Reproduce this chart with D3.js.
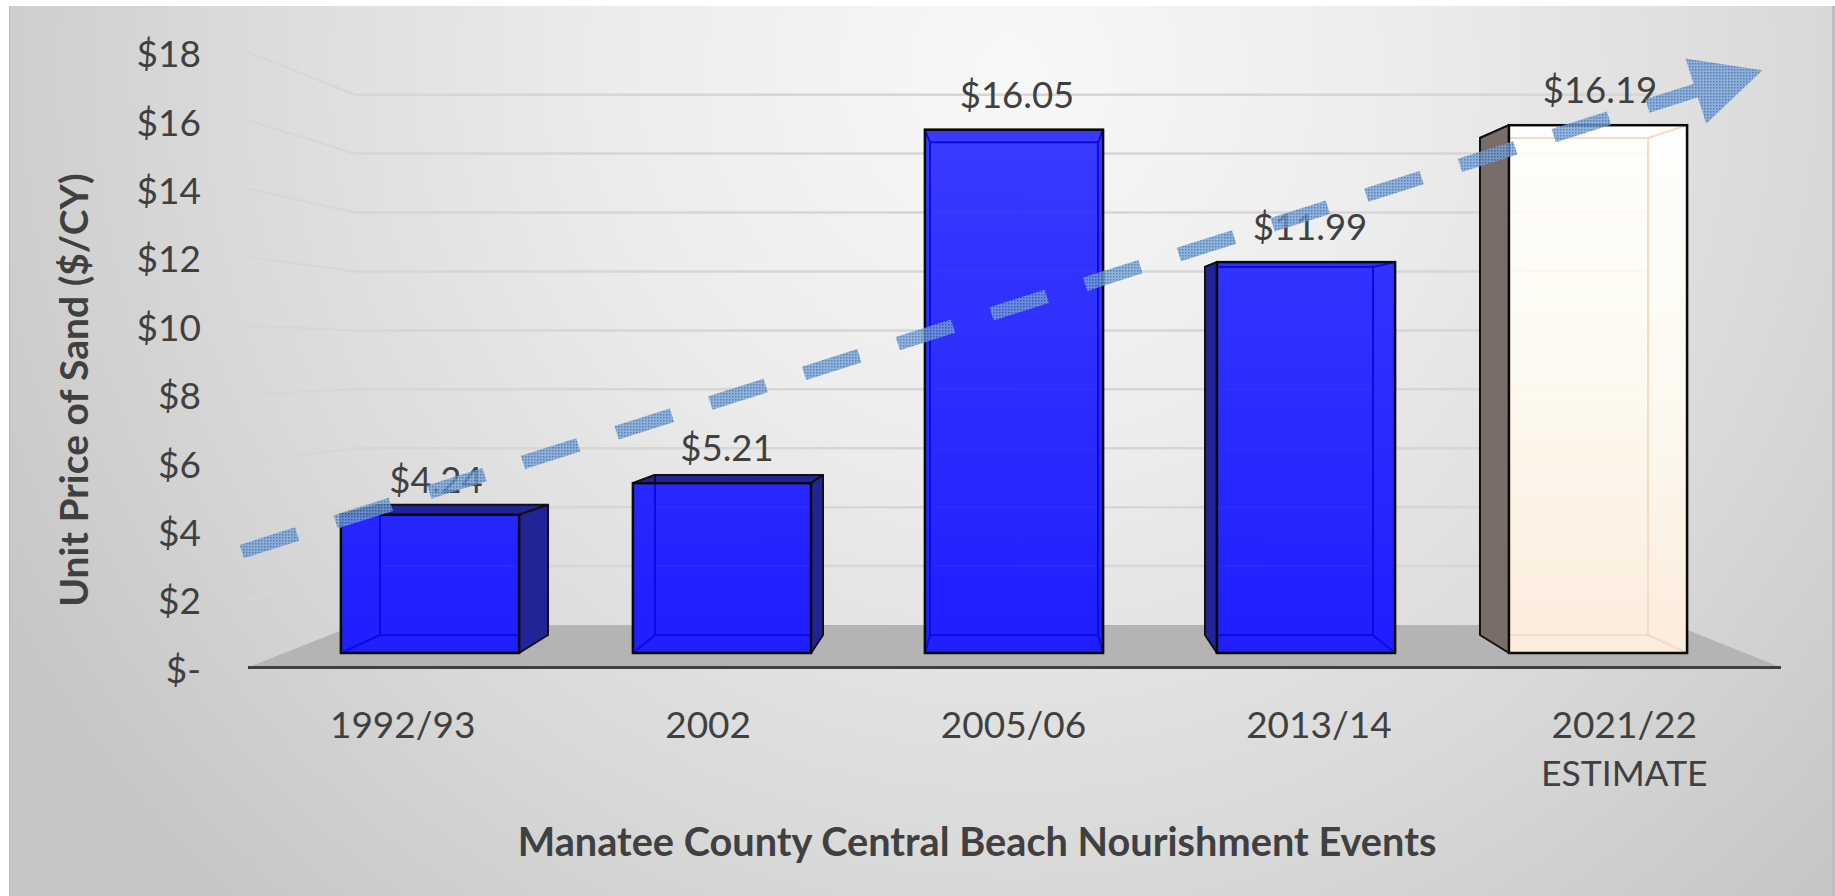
<!DOCTYPE html>
<html>
<head>
<meta charset="utf-8">
<script src="https://cdn.jsdelivr.net/npm/d3@7"></script>
<style>
    html, body { margin: 0; padding: 0; background: #fff; overflow: hidden; }
    text { font-family: Lato, "Open Sans", sans-serif; fill: #404040; }
</style>
</head>
<body>
<div id="chart"></div>
<script>
const categories = ["1992/93", "2002", "2005/06", "2013/14", "2021/22"];
const subLabels = ["", "", "", "", "ESTIMATE"];
const prices = [4.24, 5.21, 16.05, 11.99, 16.19];
const yTicks = [0, 2, 4, 6, 8, 10, 12, 14, 16, 18];
// last event is only an estimate, drawn as a pale bar
const isEstimate = [false, false, false, false, true];

// trend arrow, as position along the floor (0-5) and price
const trendPos = [-0.02, 4.723];
const trendVal = [3.39, 16.87];
const headPos = [4.689, 4.939, 4.756];
const headVal = [17.81, 17.46, 15.9];

const width = 1835;
const height = 896;

// Chart is a fake 3D one: front plane, back plane of bars and back wall all scale differently
const yAxisScale = d3.scaleLinear().domain([0, 18]).range([667.5, 51.9]);
const yWall = d3.scaleLinear().domain([0, 18]).range([625, 94.7]);
const yFront = d3.scaleLinear().domain([0, 18]).range([653, 66.2]);
const yBack = d3.scaleLinear().domain([0, 18]).range([635, 82.4]);

const xFront = d3.scaleBand().domain(categories).range([284, 1744]).paddingInner(0.39).paddingOuter(0.195);
const xBack = d3.scaleBand().domain(categories).range([326.5, 1701.5]).paddingInner(0.389).paddingOuter(0.1945);
const xLabels = d3.scaleBand().domain(categories).range([250, 1777]);
const xFloor = d3.scaleLinear().domain([0, 5]).range([248, 1781]);

const svg = d3.select("#chart")
    .append("svg")
    .attr("width", width)
    .attr("height", height)
    .attr("viewBox", [0, 0, width, height])
    .style("display", "block");

const defs = svg.append("defs");

function addGradient(id, stops) {
    const g = defs.append("linearGradient")
        .attr("id", id)
        .attr("gradientUnits", "userSpaceOnUse")
        .attr("x1", 0).attr("x2", 0)
        .attr("y1", 100).attr("y2", 655);
    stops.forEach(s => g.append("stop").attr("offset", s[0]).attr("stop-color", s[1]));
}
addGradient("blueFront", [[0, "#3b3bff"], [1, "#1e1eff"]]);
addGradient("paleFront", [[0, "#fefefe"], [0.5, "#fcfaf1"], [1, "#fcecdc"]]);

const bg = defs.append("radialGradient")
    .attr("id", "panel")
    .attr("gradientUnits", "userSpaceOnUse")
    .attr("cx", 1010).attr("cy", 70).attr("r", 1150);
[[0, "#f8f8f8"], [0.35, "#ececec"], [0.7, "#d9d9d9"], [1, "#c6c6c6"]]
    .forEach(s => bg.append("stop").attr("offset", s[0]).attr("stop-color", s[1]));

// speckled fill of the trend arrow
const speckle = defs.append("pattern")
    .attr("id", "speckle")
    .attr("patternUnits", "userSpaceOnUse")
    .attr("width", 3).attr("height", 3);
speckle.append("rect").attr("width", 3).attr("height", 3).attr("fill", "#78a4dc");
speckle.append("rect").attr("width", 1.5).attr("height", 1.5).attr("fill", "#3a68a2");

// Panel background
svg.append("rect").attr("x", 9).attr("y", 6).attr("width", 1826).attr("height", 890)
    .attr("fill", "url(#panel)");
svg.append("line").attr("x1", 9.5).attr("x2", 9.5).attr("y1", 6).attr("y2", height)
    .attr("stroke", "#b8b8b8");
svg.append("rect").attr("x", 1832).attr("y", 6).attr("width", 3).attr("height", 890)
    .attr("fill", "#bdbdbd");

// Floor
const floorLeft = xFloor(0), floorRight = xFloor(5);
const wallLeft = 355, wallRight = 1675;
svg.append("polygon")
    .attr("points", [[floorLeft, yAxisScale(0)], [floorRight, yAxisScale(0)], [wallRight, yWall(0)], [wallLeft, yWall(0)]].join(" "))
    .attr("fill", "#b4b4b4");

// Gridlines, back wall and the slanted bit on the side wall
const grid = svg.append("g").attr("fill", "none").attr("stroke", "#d6d6d6");
grid.selectAll(".back")
    .data(yTicks.filter(d => d > 0))
    .join("line")
    .attr("x1", wallLeft).attr("x2", wallRight)
    .attr("y1", d => yWall(d)).attr("y2", d => yWall(d))
    .attr("stroke-width", 2.5);
grid.selectAll(".side")
    .data(yTicks.filter(d => d > 0))
    .join("line")
    .attr("x1", floorLeft).attr("x2", wallLeft)
    .attr("y1", d => yAxisScale(d)).attr("y2", d => yWall(d))
    .attr("stroke-width", 2);

svg.append("line")
    .attr("x1", floorLeft).attr("x2", floorRight)
    .attr("y1", yAxisScale(0)).attr("y2", yAxisScale(0))
    .attr("stroke", "#404040").attr("stroke-width", 3);

// Bars
const rows = categories.map((c, i) => ({ cat: c, price: prices[i], est: isEstimate[i], i: i }));

const bars = svg.append("g").selectAll("g").data(rows).join("g");

bars.each(function (d) {
    const g = d3.select(this);
    const fl = xFront(d.cat), fr = fl + xFront.bandwidth();
    const bl = xBack(d.cat), br = bl + xBack.bandwidth();
    const ft = yFront(d.price), fb = yFront(0);
    const bt = yBack(d.price), bb = yBack(0);
    const dark = d.est ? "#786d68" : "#232398";
    const inner = d.est ? "#f3dcc6" : "#0c0ce0";

    const faces = [
        [[fl, ft], [fr, ft], [br, bt], [bl, bt]],
        [[fl, ft], [bl, bt], [bl, bb], [fl, fb]],
        [[fr, ft], [br, bt], [br, bb], [fr, fb]]
    ];
    g.selectAll(".face")
        .data(faces)
        .join("polygon")
        .attr("points", p => p.join(" "))
        .attr("fill", dark)
        .attr("stroke", "#111")
        .attr("stroke-width", 2)
        .attr("stroke-linejoin", "round");

    g.append("rect")
        .attr("x", fl).attr("y", ft)
        .attr("width", fr - fl).attr("height", fb - ft)
        .attr("fill", d.est ? "url(#paleFront)" : "url(#blueFront)");

    // back edges and gridlines show faintly through the front face
    defs.append("clipPath").attr("id", "clip" + d.i)
        .append("rect")
        .attr("x", fl).attr("y", ft)
        .attr("width", fr - fl).attr("height", fb - ft);
    const see = g.append("g")
        .attr("clip-path", `url(#clip${d.i})`)
        .attr("fill", "none");
    see.selectAll(".ghost")
        .data(yTicks.filter(t => t > 0 && t < d.price))
        .join("line")
        .attr("x1", bl).attr("x2", br)
        .attr("y1", t => yWall(t)).attr("y2", t => yWall(t))
        .attr("stroke", d.est ? "#fff6d8" : "#4a4aff")
        .attr("stroke-opacity", d.est ? 0.5 : 0.15)
        .attr("stroke-width", 2.5);
    const edges = see.append("g")
        .attr("stroke", inner)
        .attr("stroke-width", 2);
    edges.append("rect").attr("x", bl).attr("y", bt).attr("width", br - bl).attr("height", bb - bt);
    [[fl, ft, bl, bt], [fr, ft, br, bt], [fl, fb, bl, bb], [fr, fb, br, bb]].forEach(c => {
        edges.append("line").attr("x1", c[0]).attr("y1", c[1]).attr("x2", c[2]).attr("y2", c[3]);
    });

    g.append("rect")
        .attr("x", fl).attr("y", ft)
        .attr("width", fr - fl).attr("height", fb - ft)
        .attr("fill", "none")
        .attr("stroke", "#0a0a0a")
        .attr("stroke-width", 2.5);
});

// Value labels sit slightly right of the bar centre
const labelNudge = [6, 5, 3, 4, 2];
svg.append("g")
    .selectAll("text")
    .data(rows)
    .join("text")
    .attr("x", d => xFront(d.cat) + xFront.bandwidth() / 2 + labelNudge[d.i])
    .attr("y", d => yFront(d.price) - 35)
    .attr("dy", "0.35em")
    .attr("text-anchor", "middle")
    .style("font-size", "36.5px")
    .text(d => "$" + d.price.toFixed(2));

// Y axis labels
svg.append("g")
    .attr("transform", "translate(201,3)")
    .call(d3.axisLeft(yAxisScale)
        .tickValues(yTicks)
        .tickFormat(d => d === 0 ? "$-" : "$" + d)
        .tickSize(0)
        .tickPadding(0))
    .call(g => g.select(".domain").remove())
    .selectAll("text")
    .style("font-size", "37px")
    .style("font-family", "Lato")
    .attr("fill", "#404040");

// X axis labels
svg.append("g")
    .attr("transform", "translate(0,712)")
    .call(d3.axisBottom(xLabels).tickSize(0).tickPadding(0))
    .call(g => g.select(".domain").remove())
    .selectAll("text")
    .style("font-size", "37px")
    .style("font-family", "Lato")
    .attr("fill", "#404040");

svg.append("g")
    .selectAll("text")
    .data(rows.filter(d => subLabels[d.i] !== ""))
    .join("text")
    .attr("x", d => xLabels(d.cat) + xLabels.bandwidth() / 2)
    .attr("y", 774)
    .attr("dy", "0.35em")
    .attr("text-anchor", "middle")
    .style("font-size", "35.5px")
    .text(d => subLabels[d.i]);

// Axis titles
svg.append("text")
    .attr("x", 977)
    .attr("y", 842)
    .attr("dy", "0.35em")
    .attr("text-anchor", "middle")
    .style("font-size", "39.7px")
    .style("font-weight", 700)
    .text("Manatee County Central Beach Nourishment Events");

svg.append("text")
    .attr("transform", "translate(74,390) rotate(-90)")
    .attr("dy", "0.35em")
    .attr("text-anchor", "middle")
    .style("font-size", "39px")
    .style("font-weight", 700)
    .text("Unit Price of Sand ($/CY)");

// Dashed trend arrow goes over everything
const arrow = svg.append("g").attr("opacity", 0.8);
arrow.append("line")
    .attr("x1", xFloor(trendPos[0])).attr("y1", yAxisScale(trendVal[0]))
    .attr("x2", xFloor(trendPos[1])).attr("y2", yAxisScale(trendVal[1]))
    .attr("stroke", "url(#speckle)")
    .attr("stroke-width", 14)
    .attr("stroke-dasharray", "58 40.3");
arrow.append("polygon")
    .attr("points", headPos.map((p, i) => [xFloor(p), yAxisScale(headVal[i])]).join(" "))
    .attr("fill", "url(#speckle)");
</script>
</body>
</html>
